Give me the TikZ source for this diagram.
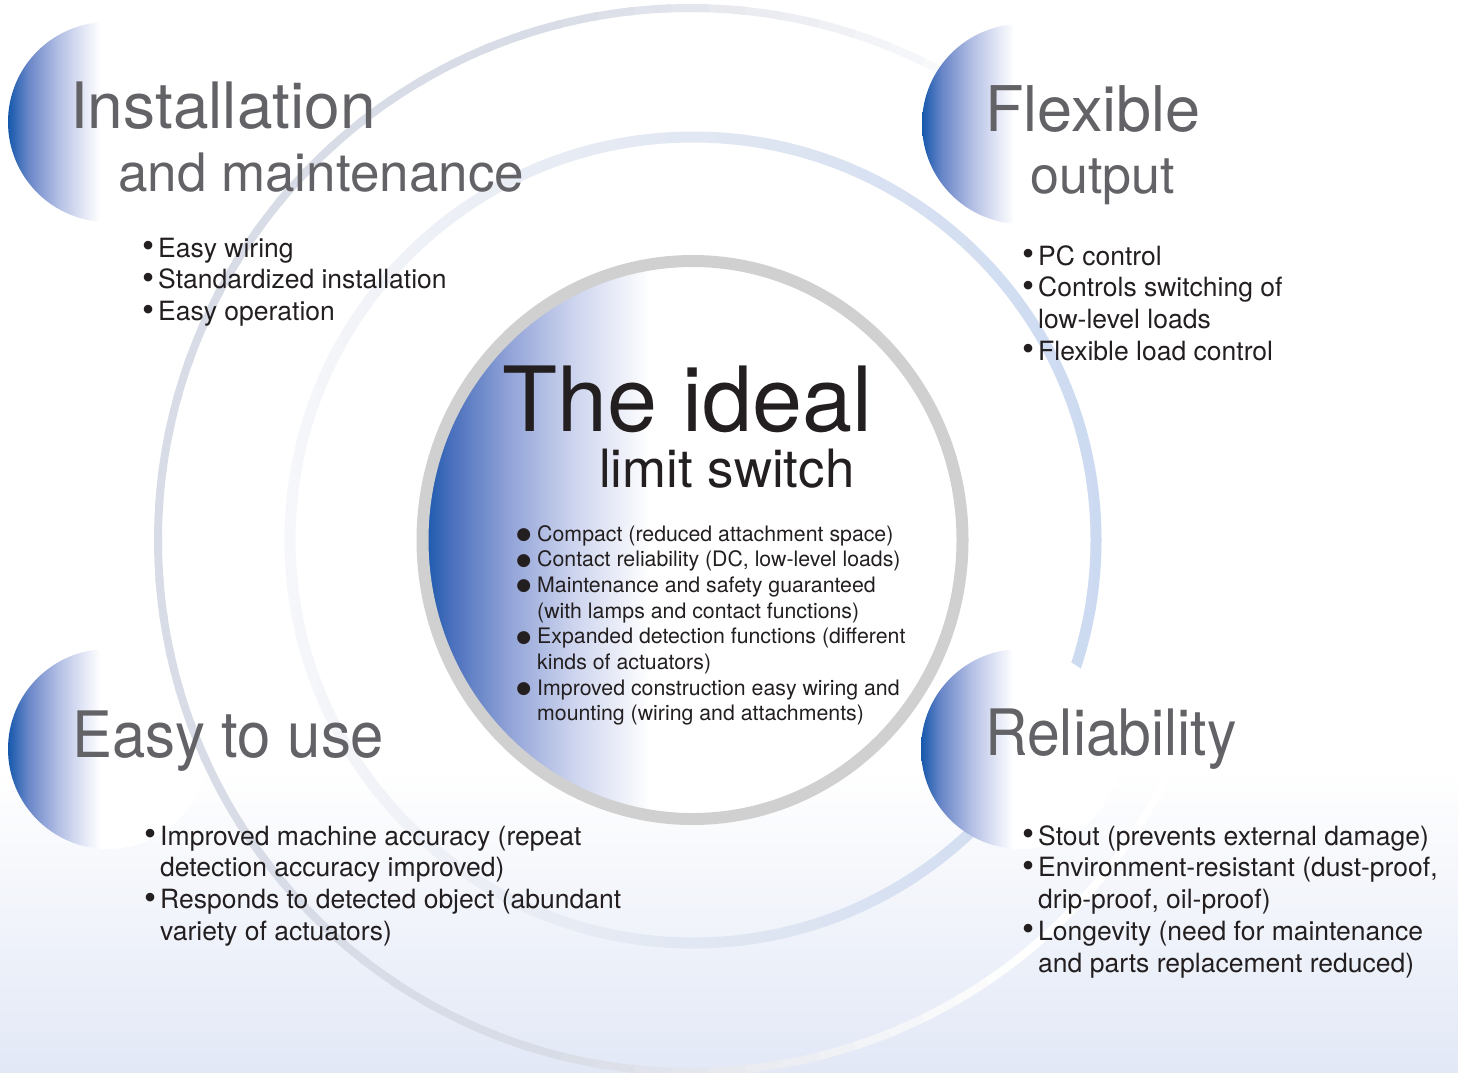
\documentclass[tikz,border=0pt]{standalone}
\usepackage{fontspec}
\usepackage{graphicx}
\setmainfont{TeX Gyre Heros}
\newfontfamily\dejavu{DejaVu Sans}

\definecolor{dblue}{RGB}{22,88,172}
\definecolor{dcone}{RGB}{105,134,200}
\definecolor{dctwo}{RGB}{178,190,228}
\definecolor{dcthree}{RGB}{228,232,246}
\definecolor{ccone}{RGB}{72,110,188}
\definecolor{cctwo}{RGB}{145,163,215}
\definecolor{ccthree}{RGB}{205,212,238}
\definecolor{headgray}{RGB}{98,98,103}
\definecolor{listblack}{RGB}{35,31,32}
\definecolor{ringgray}{RGB}{208,208,208}
\definecolor{bgblue}{RGB}{226,232,246}
\definecolor{roa}{RGB}{216,220,230}
\definecolor{rta}{RGB}{246,247,250}
\definecolor{rtb}{RGB}{232,236,244}
\definecolor{rtc}{RGB}{222,229,242}
\definecolor{rtd}{RGB}{204,218,241}

\pgfdeclarehorizontalshading{discshade}{100bp}{color(0bp)=(dblue); color(25bp)=(dblue); color(30bp)=(dcone); color(37.5bp)=(dctwo); color(44bp)=(dcthree); color(48bp)=(white); color(100bp)=(white)}
\pgfdeclarehorizontalshading{centershade}{100bp}{color(0bp)=(dblue); color(25bp)=(dblue); color(27.5bp)=(ccone); color(33bp)=(cctwo); color(39bp)=(ccthree); color(46bp)=(white); color(100bp)=(white)}
\pgfdeclarehorizontalshading{ringtwo}{100bp}{color(0bp)=(rta); color(25bp)=(rta); color(40bp)=(rtb); color(55bp)=(rtc); color(75bp)=(rtd); color(100bp)=(rtd)}

\newcommand{\bul}[1]{\hbox{\llap{\raisebox{-0.5pt}{\scalebox{1.3}{\textbullet}}\hspace{3.5pt}}#1}}
\newcommand{\cont}[1]{\hbox{#1}}
\newcommand{\cbul}[1]{\hbox{\llap{\raisebox{1.5pt}{\dejavu\fontsize{17}{17}\selectfont ●}\hspace{6pt}}#1}}

\begin{document}
\begin{tikzpicture}[x=1pt,y=-1pt,
  disc/.style={shading=discshade},
  head/.style={anchor=base west, inner sep=0pt, text=headgray},
  listtxt/.style={anchor=base west, inner sep=0pt, text=listblack, font=\fontsize{26.5}{31.8}\selectfont},
  centertxt/.style={anchor=base west, inner sep=0pt, text=listblack, font=\fontsize{21.3}{25.7}\selectfont},
  title/.style={anchor=base west, inner sep=0pt, text=listblack}]

% background
\fill[white] (0,0) rectangle (1458,1072);
\shade[top color=white, bottom color=bgblue] (0,770) rectangle (1458,1072);
\useasboundingbox (0,0) rectangle (1458,1072);

% discs under the rings
\shade[disc] (108,749) circle[radius=100pt];
\shade[disc] (108,122) circle[radius=100pt];

% outer ring, fading out towards the right
\foreach \a in {0,4,...,356}{
  \pgfmathtruncatemacro\t{max(0,min(100,72-115*cos(\a+2)))}
  \draw[roa!\t!white, line width=8pt] (690,540) ++(\a:532pt) arc[start angle=\a, end angle=\a+4.6, radius=532pt];
}
% second ring
\shade[shading=ringtwo, even odd rule] (693,540) circle[radius=408.5pt] (693,540) circle[radius=397.5pt];

% discs over the rings
\shade[disc] (1022,124) circle[radius=100pt];
\shade[disc] (1021,749) circle[radius=100pt];

% central circle
\shade[shading=centershade] (692.5,540) ellipse[x radius=270pt, y radius=279pt];
\draw[ringgray, line width=12pt] (692.5,540) ellipse[x radius=270pt, y radius=279pt];

% headings
\node[head, font=\fontsize{64}{64}\selectfont] (inst1) at (70,128) {Installation};
\node[head, font=\fontsize{53}{53}\selectfont] (inst2) at (118,191) {and maintenance};
\node[head, font=\fontsize{63}{63}\selectfont] (flex1) at (985,131) {Flexible};
\node[head, font=\fontsize{52}{52}\selectfont] (flex2) at (1030,193) {output};
\node[head, font=\fontsize{64}{64}\selectfont] (easy) at (72,757) {\scalebox{0.935}[1]{Easy to use}};
\node[head, font=\fontsize{64}{64}\selectfont] (rel) at (985,755) {\scalebox{0.92}[1]{Reliability}};

% centre titles
\node[title, font=\fontsize{90}{90}\selectfont] (ideal) at (502,431) {The ideal};
\node[title, font=\fontsize{52.8}{52.8}\selectfont] (limit) at (599,487) {limit switch};

% lists
\node[listtxt] (tl) at (158,257) {\vtop{\bul{Easy wiring}\bul{Standardized installation}\bul{Easy operation}}};
\node[listtxt] (tr) at (1038,265) {\vtop{\bul{PC control}\bul{Controls switching of}\cont{low-level loads}\bul{Flexible load control}}};
\node[listtxt] (bl) at (160,845) {\vtop{\bul{Improved machine accuracy (repeat}\cont{detection accuracy improved)}\bul{Responds to detected object (abundant}\cont{variety of actuators)}}};
\node[listtxt] (br) at (1038,845) {\vtop{\bul{Stout (prevents external damage)}\bul{Environment-resistant (dust-proof,}\cont{drip-proof, oil-proof)}\bul{Longevity (need for maintenance}\cont{and parts replacement reduced)}}};
\node[centertxt] (cl) at (537,541) {\vtop{\cbul{Compact (reduced attachment space)}\cbul{Contact reliability (DC, low-level loads)}\cbul{Maintenance and safety guaranteed}\cont{(with lamps and contact functions)}\cbul{Expanded detection functions (different}\cont{kinds of actuators)}\cbul{Improved construction easy wiring and}\cont{mounting (wiring and attachments)}}};
\end{tikzpicture}
\end{document}
